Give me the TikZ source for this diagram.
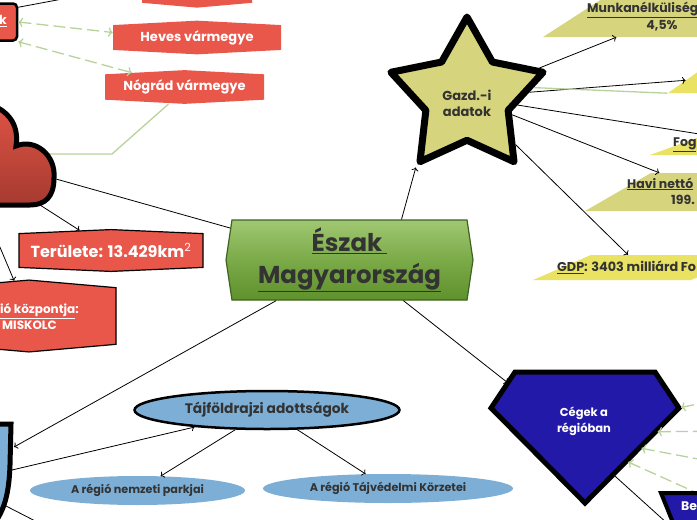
\documentclass[tikz,border=0pt]{standalone}
\usepackage{fontspec}
\setmainfont{Poppins}
\usetikzlibrary{positioning, calc, shapes.geometric, shapes.symbols, arrows.meta}

\definecolor{hexred}{HTML}{E9564A}
\definecolor{cloudtop}{HTML}{E05547}
\definecolor{cloudbot}{HTML}{A63A2F}
\definecolor{olivebox}{HTML}{D6D47C}
\definecolor{yellowbox}{HTML}{EAE262}
\definecolor{lightblue}{HTML}{7DAFD6}
\definecolor{gemblue}{HTML}{2219A9}
\definecolor{greentop}{HTML}{A0C872}
\definecolor{greenmid}{HTML}{7BAA48}
\definecolor{greenbot}{HTML}{5F912D}
\definecolor{greenborder}{HTML}{3D6320}
\definecolor{softgreen}{HTML}{B8D29C}
\definecolor{darktext}{HTML}{333333}

\begin{document}
\begin{tikzpicture}[x=1pt, y=-1pt,
  txt10/.style={font=\fontsize{11.2}{13}\selectfont\bfseries},
  txt11/.style={font=\fontsize{11.5}{16}\selectfont\bfseries},
  txt12/.style={font=\fontsize{12.5}{16}\selectfont\bfseries},
  txt13/.style={font=\fontsize{13}{16}\selectfont\bfseries},
  redhex/.style={signal, signal to=north and south, signal pointer angle=174, fill=hexred, text=white, inner sep=2pt},
  parbox/.style={trapezium, trapezium left angle=60, trapezium right angle=120, trapezium stretches=true, inner sep=3pt},
  blueoval/.style={ellipse, fill=lightblue, text=darktext, inner sep=0pt},
  plaintext/.style={inner sep=0pt, text=darktext},
  conn/.style={->, line width=0.8pt},
  dashconn/.style={dash pattern=on 12pt off 5pt, softgreen, line width=1.3pt}
]
  \useasboundingbox (0,0) rectangle (697,520);
  \clip (0,0) rectangle (697,520);

  % left column, red nodes
  \node[draw=black, line width=2.5pt, fill=hexred, rounded corners=4pt, minimum width=74pt, minimum height=37pt] (megye) at (-20,22) {};
  \node[plaintext, text=white, txt12] (megye text) at (3,21) {\underline{k}};
  \node[redhex, signal pointer angle=170, minimum width=110pt, minimum height=40pt] (top red) at (197,-17) {};
  \node[redhex, txt13, minimum width=168pt, minimum height=31pt] (heves) at (197,37.5) {Heves vármegye};
  \node[redhex, txt13, minimum width=159pt, minimum height=32pt] (nograd) at (184.5,87) {Nógrád vármegye};
  \node[redhex, signal pointer angle=175, draw=black, line width=1.2pt, minimum width=184pt, minimum height=41pt,
        font=\fontsize{16}{18}\selectfont\bfseries] (terulet) at (111,250.5) {Területe: 13.429km\textsuperscript{\mdseries 2}};
  \node[redhex, signal pointer angle=170, draw=black, line width=1.2pt, minimum width=174pt, minimum height=57pt] (regio) at (29,316) {};
  \node[plaintext, text=white, align=left, anchor=west, font=\fontsize{12}{16}\selectfont\bfseries] (regio text) at (0,317) {\underline{ió központja}:\\\,MISKOLC};

  % main topic
  \node[signal, signal to=west and east, signal pointer angle=163, minimum width=247pt, minimum height=80pt,
        draw=greenborder, line width=1.2pt, top color=greentop, bottom color=greenbot, middle color=greenmid,
        text=darktext, align=center, font=\fontsize{24.4}{32}\selectfont\bfseries] (central) at (349.5,260)
        {\underline{Észak\ }\\\underline{Magyarország}};

  % economy
  \node[star, star points=5, star point ratio=1.85, minimum size=160pt, draw=black, line width=7pt, line join=round,
        fill=olivebox] (gazd) at (467,97) {};
  \node[plaintext, align=center, txt13] (gazd text) at (467,103) {Gazd.-i\\adatok};
  \node[parbox, fill=olivebox, minimum width=260pt, minimum height=45pt] (munka) at (673,14.5) {};
  \node[plaintext, anchor=west, txt12] (munka text) at (587,10) {\underline{Munkanélküliség}};
  \node[plaintext, txt12] (munka value) at (662,26) {4,5\%};
  \node[parbox, fill=yellowbox, minimum width=200pt, minimum height=38pt] (box2) at (768,74) {};
  \node[parbox, fill=yellowbox, minimum width=224pt, minimum height=22pt] (fog) at (762,144) {};
  \node[plaintext, anchor=west, txt12] (fog text) at (673,145) {\underline{Fog}};
  \node[parbox, fill=olivebox, minimum width=246pt, minimum height=38pt] (havi) at (708,192) {};
  \node[plaintext, anchor=west, txt12] (havi text) at (627,184) {\underline{Havi nettó}};
  \node[plaintext, anchor=west, txt12] (havi value) at (671,200) {199.};
  \node[parbox, fill=yellowbox, minimum width=216pt, minimum height=25pt] (gdp) at (641,267.5) {};
  \node[plaintext, anchor=west, font=\fontsize{12.8}{16}\selectfont\bfseries] (gdp text) at (557,267.5) {\underline{GDP}: 3403 milliárd Fo};

  % landscape
  \node[blueoval, draw=black, line width=2.5pt, minimum width=265pt, minimum height=38pt,
        font=\fontsize{13.8}{16}\selectfont\bfseries] (taj) at (267,410) {Tájföldrajzi adottságok};
  \node[blueoval, minimum width=215pt, minimum height=29pt, txt10] (nemzeti) at (137.5,490.5) {A régió nemzeti parkjai};
  \node[blueoval, minimum width=250pt, minimum height=29pt, txt10] (tajvedelmi) at (388,488.5) {A régió Tájvédelmi Körzetei};

  % companies
  \path[draw=black, line width=5pt, fill=gemblue, line join=miter]
    (515,372) coordinate (cegek nw) -- (655,372) coordinate (cegek ne) -- (679,408) coordinate (cegek e)
    -- (585,503) coordinate (cegek s) -- (491,408) coordinate (cegek w) -- cycle;
  \node[text=white, align=center, txt11] (cegek) at (584,421) {Cégek a\\régióban};

  % free ends
  \coordinate (megye link) at (100,-8);
  \coordinate (nograd bend) at (112,154);
  \coordinate (cloud notch) at (20,154);
  \coordinate (cloud e) at (56,179);
  \coordinate (cloud s) at (40,205);
  \coordinate (cloud sw) at (-17,207);
  \coordinate (shield a) at (14,447);
  \coordinate (shield b) at (12,470);
  \coordinate (shield c) at (6,506);
  \coordinate (shield link) at (45,526);
  \coordinate (cegek link 1) at (725,398);
  \coordinate (cegek link 2) at (735,431);
  \coordinate (cegek link 3) at (735,466);
  \coordinate (cegek link 4) at (735,510);
  \coordinate (be) at (668,524);

  % connectors
  \draw[line width=0.8pt] ($(megye.north east)+(0,5)$) -- (megye link);
  \draw[dashconn, <->] (megye.east) -- ([yshift=5pt]heves.west);
  \draw[dashconn, <->] (megye.south east) -- (nograd);
  \draw[softgreen, line width=1.3pt] ([xshift=-16pt]nograd.south) -- (nograd bend) -- (cloud notch);

  % cloud
  \path[draw=black, line width=5pt, top color=cloudtop, bottom color=cloudbot]
    (-40,100) .. controls (5,100) and (20,122) .. (16,146)
    .. controls (35,138) and (56,155) .. (54,178)
    .. controls (54,197) and (45,205) .. (30,205) -- (-40,205) -- cycle;

  % shield
  \path[draw=black, line width=5pt, fill=lightblue]
    (-30,424) -- (11,424) -- (10,465) .. controls (9,495) and (4,510) .. (-6,524) -- (-30,524) -- cycle;

  \draw[line width=0.8pt] (cloud e) -- (central.165);
  \draw[conn] (cloud s) -- (terulet);
  \draw[conn] (cloud sw) -- (regio);

  \draw[conn] ([xshift=52pt]central.north) -- (gazd.outer point 3);
  \draw[conn] (central.209) -- (shield a);
  \draw[conn] (central.323) -- ($(cegek nw)!0.3!(cegek w)$);

  \draw[conn] (gazd) -- (munka);
  \draw[conn] (gazd) -- (box2);
  \draw[softgreen, line width=1.3pt] (gazd.8) -- (box2.bottom left corner);
  \draw[conn] (gazd) -- (fog);
  \draw[conn] (gazd) -- (havi);
  \draw[conn] (gazd) -- (gdp);

  \draw[conn] (shield b) -- (taj);
  \draw[line width=0.8pt] (shield c) -- (shield link);
  \draw[conn] (taj) -- (nemzeti);
  \draw[conn] (taj) -- (tajvedelmi);

  \draw[dashconn, <-, shorten <=2pt] (cegek e) -- (cegek link 1);
  \draw[dashconn, <-, shorten <=2pt] ($(cegek e)!0.25!(cegek s)$) -- (cegek link 2);
  \draw[dashconn, <-, shorten <=2pt] ($(cegek e)!0.42!(cegek s)$) -- (cegek link 3);
  \draw[dashconn, <-, shorten <=2pt] ($(cegek e)!0.56!(cegek s)$) -- (cegek link 4);
  \draw[line width=0.8pt] ($(cegek e)!0.7!(cegek s)$) -- (be);

  % box at the bottom right
  \path[draw=black, line width=4pt, fill=gemblue] (661,493) -- (760,493) -- (760,540) -- (680,540) -- cycle;
  \node[plaintext, text=white, anchor=west, txt12] (be text) at (681,506) {Be};
\end{tikzpicture}
\end{document}
